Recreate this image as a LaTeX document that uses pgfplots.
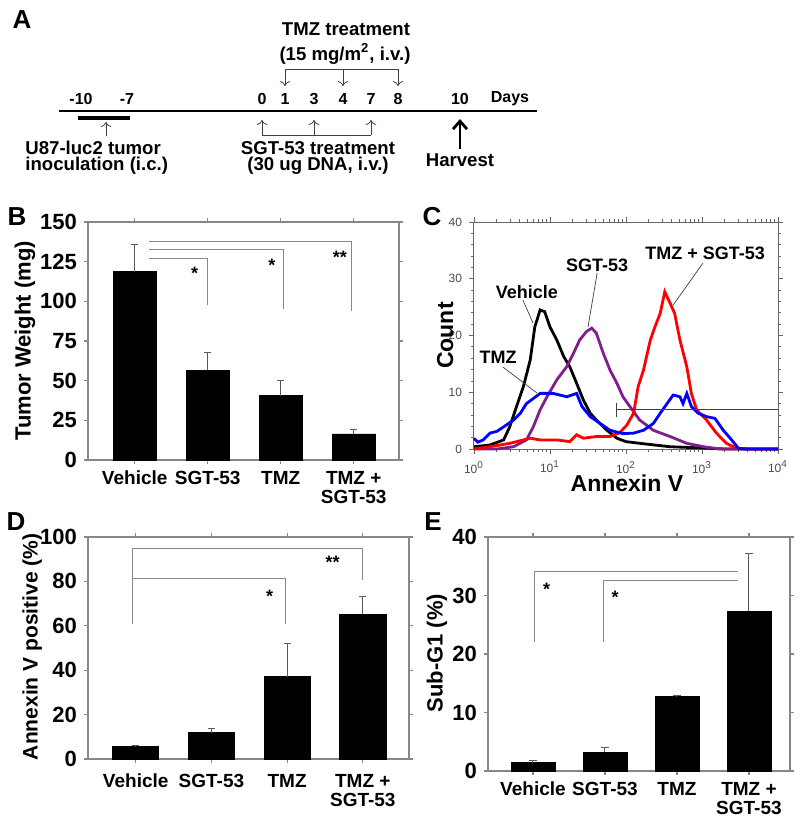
\documentclass[border=0pt]{standalone}
\usepackage{pgfplots}
\pgfplotsset{compat=1.18}
\usepackage{pgfplotstable}
\usepackage{fontspec}
\setmainfont{Liberation Sans}
\usetikzlibrary{arrows.meta}

\definecolor{axgray}{RGB}{135,135,135}
\definecolor{sgtpurple}{RGB}{128,30,140}

% flow histograms: lg = log10(Annexin V), n = count
\pgfplotstableread{
lg n
0 0.4
0.21 0.7
0.39 1.6
0.47 3.9
0.56 7.5
0.65 11
0.74 15.7
0.80 21.5
0.87 24.5
0.93 24.2
1.00 21.5
1.09 19.2
1.18 16.3
1.26 14.5
1.35 11.6
1.44 8.6
1.53 6.3
1.61 5.1
1.75 3.3
1.88 1.9
2.00 1.3
2.18 1.0
2.58 0.4
2.97 0.2
3.3 0
4 0
}\vehicle
\pgfplotstableread{
lg n
0 0
0.3 0
0.52 0.4
0.69 1.6
0.78 3.9
0.87 6.9
0.96 9.2
1.09 12.2
1.22 14.5
1.31 16.9
1.39 19.2
1.48 20.7
1.55 21.3
1.61 20.4
1.70 16.9
1.79 13.9
1.88 11.6
1.96 9.2
2.05 7.5
2.18 5.1
2.36 3.3
2.58 2.2
2.80 1.0
3.02 0.4
3.24 0
4 0
}\sgt
\pgfplotstableread{
lg n
0 0
0.21 0.4
0.47 1.0
0.74 1.9
0.87 1.6
1.09 1.6
1.26 1.3
1.35 2.5
1.44 1.9
1.61 2.2
1.79 2.2
1.92 2.9
2.01 4.2
2.10 6.3
2.16 11
2.23 13.9
2.32 19.2
2.38 21.5
2.45 23.9
2.51 27.7
2.58 25.7
2.64 23.9
2.71 19.2
2.80 14.5
2.86 9.8
2.93 6.9
3.06 5.1
3.19 2.8
3.32 1.0
3.46 0.1
3.6 0
4 0
}\combo
\pgfplotstableread{
lg n
0 1.9
0.05 1.2
0.12 1.6
0.21 2.8
0.30 3.1
0.39 3.9
0.52 5.1
0.61 6.3
0.69 8.0
0.78 8.9
0.87 9.8
1.04 9.8
1.22 9.2
1.35 9.8
1.42 7.5
1.53 5.7
1.66 4.5
1.79 3.3
1.96 2.7
2.10 2.8
2.23 3.3
2.36 4.5
2.45 6.3
2.54 8.0
2.62 9.5
2.71 9.2
2.75 8.0
2.80 9.8
2.86 7.5
2.95 6.3
3.06 5.7
3.17 5.4
3.28 3.3
3.39 1.6
3.48 0.1
3.6 0
4 0
}\tmz

\pgfplotsset{
  barpanel/.style={
    scale only axis, anchor=south west, clip=false,
    axis line style={axgray, line width=0.6pt},
    tick style={axgray, line width=0.6pt},
    tick align=outside, major tick length=2pt,
    xtick={0,1,2,3},
    xticklabels={Vehicle,SGT-53,TMZ,{TMZ +\\SGT-53}},
    xticklabel style={align=center, font=\bfseries\fontsize{9.5}{9.5}\selectfont},
    yticklabel style={font=\bfseries\fontsize{11}{12}\selectfont},
    /pgf/number format/assume math mode=true,
    ylabel style={anchor=center, font=\bfseries\fontsize{11}{12}\selectfont},
  },
  barplot/.style={ybar, fill=black, draw=black, bar width=#1,
    error bars/.cd, y dir=plus, y explicit,
    error bar style={black!65, line width=0.5pt},
    error mark options={rotate=90, mark size=1.8pt, black!65, line width=0.5pt}},
  sig/.style={axgray, line width=0.5pt},
}
\tikzset{
  star/.style={font=\bfseries\fontsize{9}{9}\selectfont, yshift=-2pt},
  lead/.style={black!75, line width=0.35pt},
}

\begin{document}
\begin{tikzpicture}
\useasboundingbox (0,0) rectangle (400pt,413.5pt);

% ---------- A: timeline ----------
\begin{axis}[at={(0pt,413.5pt)}, anchor=north west, scale only axis,
  width=400pt, height=90pt, xmin=0, xmax=800, ymin=0, ymax=180,
  y dir=reverse, hide axis, clip=false]
  \addplot[black, line width=0.8pt] coordinates {(59,111) (537,111)};
  \addplot[black, line width=2.3pt] coordinates {(78,118) (130,118)};
  \addplot[black!75, line width=0.4pt, -{To[length=2.5pt]}] coordinates {(106,136) (106,122)};
  % SGT-53 dosing
  \addplot[black!75, line width=0.4pt] coordinates {(262,135) (371,135)};
  \addplot[black!75, line width=0.4pt, -{To[length=2.5pt]}] coordinates {(262,135) (262,120)};
  \addplot[black!75, line width=0.4pt, -{To[length=2.5pt]}] coordinates {(314,135) (314,120)};
  \addplot[black!75, line width=0.4pt, -{To[length=2.5pt]}] coordinates {(371,135) (371,120)};
  % TMZ dosing
  \addplot[black!75, line width=0.4pt] coordinates {(285,69) (398,69)};
  \addplot[black!75, line width=0.4pt, -{To[length=2.5pt]}] coordinates {(285,69) (285,86)};
  \addplot[black!75, line width=0.4pt, -{To[length=2.5pt]}] coordinates {(343,69) (343,86)};
  \addplot[black!75, line width=0.4pt, -{To[length=2.5pt]}] coordinates {(398,69) (398,86)};
  % harvest
  \addplot[black, line width=1.4pt, -{Straight Barb[length=4pt,width=7pt]}] coordinates {(460,149) (460,119)};
  \begin{scope}[font=\bfseries\fontsize{8}{8}\selectfont]
    \node at (axis cs:81,99) {-10};
    \node at (axis cs:127,99) {-7};
    \node at (axis cs:262,99) {0};
    \node at (axis cs:285,99) {1};
    \node at (axis cs:314,99) {3};
    \node at (axis cs:343,99) {4};
    \node at (axis cs:371,99) {7};
    \node at (axis cs:398,99) {8};
    \node at (axis cs:460,99) {10};
    \node at (axis cs:510,99) {Days};
  \end{scope}
  \begin{scope}[font=\bfseries\fontsize{9.3}{9}\selectfont]
    \node at (axis cs:346,29) {TMZ treatment};
    \node at (axis cs:345,54) {(15 mg/m\textsuperscript{2}, i.v.)};
    \node[anchor=west, inner sep=0pt] at (axis cs:25,148) {U87-luc2 tumor};
    \node[anchor=west, inner sep=0pt] at (axis cs:25,166) {inoculation (i.c.)};
    \node at (axis cs:318,148) {SGT-53 treatment};
    \node at (axis cs:318,166) {(30 ug DNA, i.v.)};
    \node at (axis cs:460,160) {Harvest};
  \end{scope}
\end{axis}

% ---------- B: tumor weight ----------
\begin{axis}[barpanel, at={(44pt,183.5pt)}, width=155.5pt, height=119pt,
  xmin=-0.64, xmax=3.62, ymin=0, ymax=150, ytick={0,25,...,150},
  ylabel={Tumor Weight (mg)},
  ylabel style={at={(rel axis cs:-0.203,0.5)}}]
  \addplot[barplot=0.59] coordinates {
    (0,118.6) +- (0,17.3) (1,56.7) +- (0,11.1) (2,40.5) +- (0,9.3) (3,16.4) +- (0,3.1)};
  \addplot[sig] coordinates {(0.2,127.1) (1.0,127.1) (1.0,98)};
  \addplot[sig] coordinates {(0.2,132.8) (2.04,132.8) (2.04,95)};
  \addplot[sig] coordinates {(0.2,138) (2.97,138) (2.97,94)};
  \node[star] at (axis cs:0.82,120) {*};
  \node[star] at (axis cs:1.88,125) {*};
  \node[star] at (axis cs:2.81,130) {**};
\end{axis}

% ---------- C: Annexin V histograms ----------
\begin{axis}[at={(237pt,189pt)}, anchor=south west, scale only axis,
  width=152pt, height=113.5pt, clip=false,
  xmode=log, xmin=1, xmax=10000, ymin=0, ymax=40,
  ytick={0,10,...,40}, minor y tick num=4,
  axis line style={black!60, line width=0.5pt},
  tick style={black!60, line width=0.4pt},
  tick align=outside, major tick length=2.5pt, minor tick length=1.5pt,
  tick label style={font=\fontsize{6}{6}\selectfont, text=black!70},
  /pgf/number format/assume math mode=true,
  xticklabel={\pgfmathtruncatemacro\ex{round(\tick/2.302585)}10\textsuperscript{\ex}},
  ylabel={Count}, xlabel={Annexin V},
  ylabel style={at={(rel axis cs:-0.095,0.5)}, anchor=center, font=\bfseries\fontsize{11.5}{12}\selectfont},
  xlabel style={at={(rel axis cs:0.503,-0.15)}, anchor=center, font=\bfseries\fontsize{11.5}{12}\selectfont}]
  \addplot[black, line width=1.4pt] table[x expr={10^\thisrow{lg}}, y=n] {\vehicle};
  \addplot[sgtpurple, line width=1.4pt] table[x expr={10^\thisrow{lg}}, y=n] {\sgt};
  \addplot[red, line width=1.4pt] table[x expr={10^\thisrow{lg}}, y=n] {\combo};
  \addplot[blue, line width=1.4pt] table[x expr={10^\thisrow{lg}}, y=n] {\tmz};
  \addplot[black!75, line width=0.4pt] coordinates {(75,6.9) (10000,6.9)};
  \addplot[black!75, line width=0.4pt] coordinates {(75,5.7) (75,8.1)};
  \draw[lead] (rel axis cs:0.161,0.656) -- (rel axis cs:0.194,0.555);
  \draw[lead] (rel axis cs:0.405,0.775) -- (rel axis cs:0.375,0.537);
  \draw[lead] (rel axis cs:0.753,0.819) -- (rel axis cs:0.655,0.634);
  \draw[lead] (rel axis cs:0.095,0.361) -- (rel axis cs:0.207,0.247);
  \begin{scope}[font=\bfseries\fontsize{9}{9}\selectfont]
    \node at (rel axis cs:0.174,0.692) {Vehicle};
    \node at (rel axis cs:0.405,0.811) {SGT-53};
    \node at (rel axis cs:0.760,0.863) {TMZ + SGT-53};
    \node at (rel axis cs:0.079,0.405) {TMZ};
  \end{scope}
\end{axis}

% ---------- D: Annexin V positive ----------
\begin{axis}[barpanel, at={(44pt,34pt)}, width=160.5pt, height=111pt,
  xmin=-0.63, xmax=3.61, ymin=0, ymax=100, ytick={0,20,...,100},
  ylabel={Annexin V positive (\%)},
  ylabel style={at={(rel axis cs:-0.174,0.505)}, font=\bfseries\fontsize{10.5}{11}\selectfont},
  xticklabel style={yshift=-2pt}]
  \addplot[barplot=0.61] coordinates {
    (0,5.5) +- (0,0.8) (1,11.9) +- (0,1.8) (2,37.1) +- (0,15) (3,65.3) +- (0,7.8)};
  \addplot[sig] coordinates {(-0.04,61) (-0.04,94.9) (2.99,94.9) (2.99,80.6)};
  \addplot[sig] coordinates {(-0.04,81.4) (1.98,81.4) (1.98,61)};
  \node[star] at (axis cs:2.6,90.5) {**};
  \node[star] at (axis cs:1.77,75) {*};
\end{axis}

% ---------- E: Sub-G1 ----------
\begin{axis}[barpanel, at={(244pt,28pt)}, width=151pt, height=117pt,
  xmin=-0.625, xmax=3.57, ymin=0, ymax=40, ytick={0,10,...,40},
  ylabel={Sub-G1 (\%)},
  ylabel style={at={(rel axis cs:-0.169,0.504)}}]
  \addplot[barplot=0.61] coordinates {
    (0,1.4) +- (0,0.4) (1,3.2) +- (0,0.85) (2,12.7) +- (0,0.2) (3,27.3) +- (0,9.9)};
  \addplot[sig] coordinates {(0.02,22.1) (0.02,34.1) (2.85,34.1)};
  \addplot[sig] coordinates {(0.98,22.1) (0.98,32.6) (2.85,32.6)};
  \node[star] at (axis cs:0.19,31.8) {*};
  \node[star] at (axis cs:1.14,30.4) {*};
\end{axis}

% panel letters
\begin{scope}[font=\bfseries\fontsize{13}{13}\selectfont]
  \node at (11pt,403.5pt) {A};
  \node at (8.5pt,305pt) {B};
  \node at (216pt,305pt) {C};
  \node at (8pt,152.5pt) {D};
  \node at (216.5pt,152.5pt) {E};
\end{scope}
\end{tikzpicture}
\end{document}
